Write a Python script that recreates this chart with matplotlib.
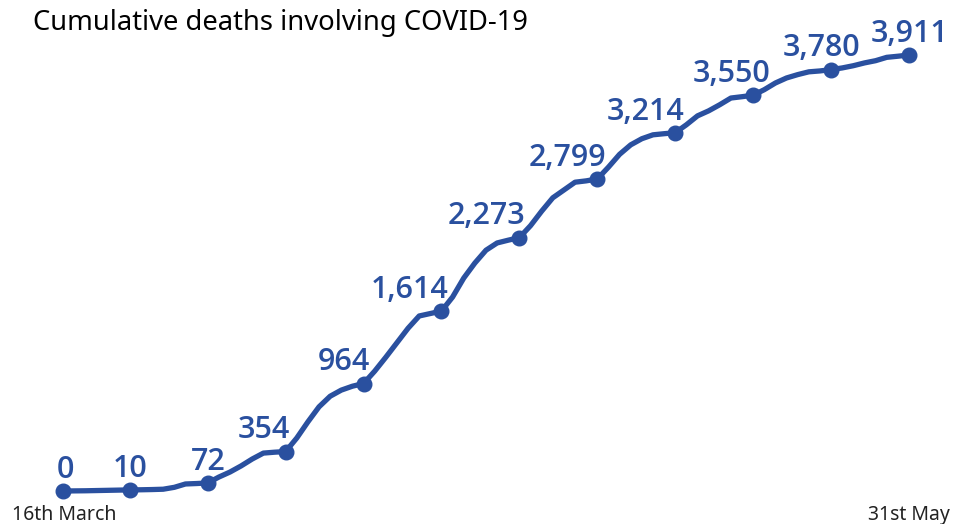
import numpy as np
import matplotlib
matplotlib.use("Agg")
import matplotlib.pyplot as plt

plt.rcParams['font.family'] = ['Noto Sans', 'DejaVu Sans']

# daily cumulative deaths, 16 March .. 31 May
deaths = [0, 1, 2, 4, 6, 8, 10, 11, 13, 16, 33, 63, 67, 72,
          125, 170, 225, 287, 340, 348, 354,
          475, 620, 755, 850, 905, 940, 964,
          1075, 1200, 1330, 1460, 1570, 1592, 1614,
          1740, 1910, 2045, 2160, 2225, 2250, 2273,
          2380, 2510, 2630, 2700, 2770, 2782, 2799,
          2905, 3020, 3105, 3160, 3195, 3205, 3214,
          3285, 3365, 3410, 3465, 3525, 3537, 3550,
          3600, 3660, 3705, 3735, 3760, 3768, 3780,
          3795, 3815, 3840, 3860, 3890, 3900, 3911]
marker_days = [0, 6, 13, 20, 27, 34, 41, 48, 55, 62, 69, 76]
first_label = "16th March"
last_label = "31st May"
title = "Cumulative deaths involving COVID-19"

days = np.arange(len(deaths))
vals = np.array(deaths)
blue = '#2A509F'

W, H = 965, 524
fig = plt.figure(figsize=(W / 100, H / 100), dpi=100)
ax = fig.add_axes([0, 0, 1, 1])
ax.axis('off')

# map pixel anchors: day 0 -> x 63, day 76 -> x 909; 0 -> y 491, max -> y 55
ppd = (909 - 63) / days[-1]
ax.set_xlim(-63 / ppd, (W - 63) / ppd)
ppv = (491 - 55) / vals[-1]
ax.set_ylim(-(H - 491) / ppv, vals[-1] + 55 / ppv)

ax.plot(days, vals, color=blue, lw=3.8, solid_joinstyle='round',
        solid_capstyle='round')
mv = vals[marker_days]
ax.plot(marker_days, mv, 'o', color=blue, ms=10.5)

# label x offsets in pixels relative to marker
dx = [2, 0, 1, -22, -20, -32, -33, -30, -30, -22, -10, 1]
for d, v, off in zip(marker_days, mv, dx):
    ax.annotate(f"{v:,}", (d, v), xytext=(off * 0.72, 9.5),
                textcoords='offset points', ha='center', va='baseline',
                fontsize=22, fontweight=600, color=blue,
                family=['Open Sans', 'Noto Sans'])

fig.text(33 / W, 1 - 30 / H, title, fontsize=19.7, color='black',
         ha='left', va='baseline')
fig.text(12 / W, 1 - 520 / H, first_label, fontsize=14, color='#222222',
         ha='left', va='baseline')
fig.text(950 / W, 1 - 520 / H, last_label, fontsize=14, color='#222222',
         ha='right', va='baseline')

fig.savefig('out.png', dpi=100, facecolor='white')
